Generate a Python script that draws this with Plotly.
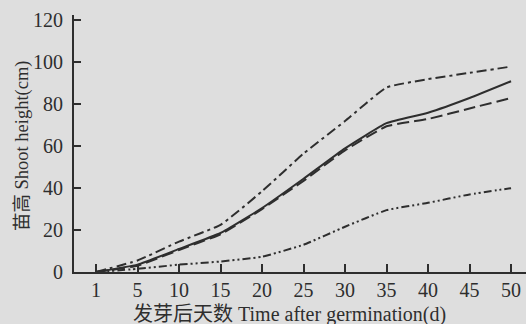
import plotly.graph_objects as go

days = ["1", "5", "10", "15", "20", "25", "30", "35", "40", "45", "50"]
solid = [0, 3.5, 11, 18.6, 30.5, 44.5, 59, 71, 76, 83, 91]
dashed = [0, 3, 10.5, 18, 30, 43.5, 58, 69.5, 73, 78, 83]
dashdot = [0, 5.5, 14.5, 22.5, 38.5, 56.5, 72, 88, 92, 95, 98]
dashdotdot = [0, 1.5, 3.5, 5, 7.3, 13, 21.6, 29.5, 33, 37, 40]

xi = list(range(len(days)))
ink = "#2e2e2e"
bg = "#dedede"

fig = go.Figure()
styles = [
    (dashdot, "10px,4px,3px,4px"),
    (solid, "solid"),
    (dashed, "12px,5px"),
    (dashdotdot, "8px,3px,2px,3px,2px,3px"),
]
for ys, dash in styles:
    fig.add_trace(go.Scatter(x=xi, y=ys, mode="lines",
                             line=dict(color=ink, width=2, dash=dash,
                                       shape="spline", smoothing=0.4)))

font_serif = "Liberation Serif, Times New Roman, serif"
title_font = dict(size=20, family="Liberation Serif, Noto Sans CJK SC, serif", color=ink)
ytitle_font = dict(size=18.5, family="Liberation Serif, Noto Sans CJK SC, serif", color=ink)
fig.update_layout(
    width=526, height=324,
    margin=dict(l=74, r=0, t=15, b=52),
    paper_bgcolor=bg, plot_bgcolor=bg,
    showlegend=False,
    font=dict(family=font_serif, color=ink, size=19),
    xaxis=dict(
        range=[-0.53, 10.36], automargin=False,
        tickmode="array", tickvals=xi, ticktext=days,
        ticks="inside", ticklen=8, tickwidth=2, tickcolor=ink,
        showline=True, linecolor=ink, linewidth=2,
        showgrid=False, zeroline=False,
        tickfont=dict(size=20, family=font_serif),
        ticklabelstandoff=-1,
    ),
    yaxis=dict(
        range=[0, 122.6], automargin=False,
        tickmode="array", tickvals=[0, 20, 40, 60, 80, 100, 120],
        ticks="inside", ticklen=7, tickwidth=2, tickcolor=ink,
        showline=True, linecolor=ink, linewidth=2,
        showgrid=False, zeroline=False,
        tickfont=dict(size=20, family=font_serif),
        ticklabelstandoff=5,
    ),
    annotations=[
        dict(text="发芽后天数 Time after germination(d)", xref="paper", yref="paper",
             x=0.5, xshift=-11, y=0, yshift=-42, xanchor="center", yanchor="middle",
             showarrow=False, font=title_font),
        dict(text="苗高 Shoot height(cm)", xref="paper", yref="paper",
             x=0, xshift=-52, y=0.49, xanchor="center", yanchor="middle",
             textangle=-90, showarrow=False, font=ytitle_font),
    ],
)

fig.write_html("out.html", config={"displayModeBar": False},
               post_script="document.body.style.margin='0';document.body.style.background='#dedede';")
